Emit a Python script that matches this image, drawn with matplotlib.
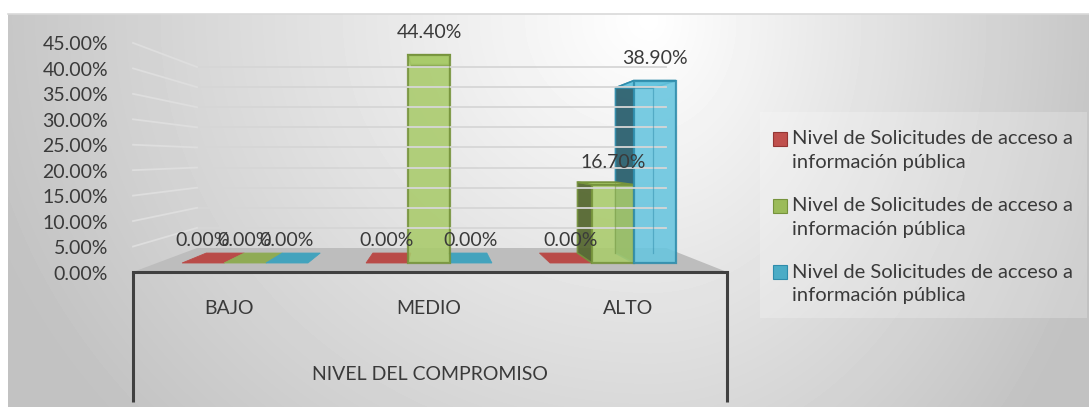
import numpy as np
import matplotlib.pyplot as plt
from matplotlib.patches import Polygon, Rectangle

# datos
categorias = ['BAJO', 'MEDIO', 'ALTO']
serie_nombre = ['Nivel de Solicitudes de acceso a', 'información pública']
rojo = [0.0, 0.0, 0.0]
verde = [0.0, 44.4, 16.7]
azul = [0.0, 0.0, 38.9]
yticks = [0, 5, 10, 15, 20, 25, 30, 35, 40, 45]
titulo_x = 'NIVEL DEL COMPROMISO'

series = [rojo, verde, azul]
cara = ['#c0504d', '#a9cb6b', '#67c5df']
borde = ['#943634', '#76933c', '#2f8cab']
lado = ['#632523', '#4f6228', '#215968']
plano = ['#b94b48', '#8fab55', '#43a3bd']
clave = ['#c0504d', '#9bbb59', '#4bacc6']

plt.rcParams['font.family'] = ['Lato', 'DejaVu Sans']
TXT = '#3a3a3a'

W, H = 1089, 409
fig = plt.figure(figsize=(W / 100, H / 100), dpi=100)

# fondo degradado (coordenadas en pixeles)
bg = fig.add_axes([0, 0, 1, 1])
bg.set_xlim(0, W)
bg.set_ylim(H, 0)
bg.axis('off')
yy, xx = np.mgrid[0:H, 0:W]
rx = np.where(xx < 650, 700.0, 480.0)
rr = np.sqrt(((xx - 650) / rx) ** 2 + ((yy - 20) / 620.0) ** 2)
img = 1 - 0.24 * np.clip(rr, 0, 1)
bg.imshow(img[14:407, 8:], cmap='gray', vmin=0, vmax=1, extent=(8, W, 407, 14),
          aspect='auto', interpolation='bilinear')
bg.plot([8, W], [14, 14], color='#d9d9d9', lw=1.2)

# leyenda
bg.add_patch(Rectangle((760, 112), 327, 206, facecolor='white', alpha=0.22, lw=0))
for i in range(3):
    y1 = 139 + 66.5 * i
    bg.add_patch(Rectangle((773, y1 - 7), 14, 14, facecolor=clave[i], edgecolor=borde[i], lw=0.8))
    bg.text(792, y1, serie_nombre[0], fontsize=14.5, color=TXT, va='center', ha='left')
    bg.text(792, y1 + 23.5, serie_nombre[1], fontsize=14.5, color=TXT, va='center', ha='left')

# ejes principales: x = categoria, y = porcentaje (plano frontal de las barras)
ax = fig.add_axes([0, 0, 1, 1])
ax.patch.set_alpha(0)
ax.axis('off')
PX, PY0, PXV = 184.0, 263.0, 4.69


def to_x(p):
    return (p - 245) / PX


def to_v(p):
    return (PY0 - p) / PXV


ax.set_xlim(to_x(0), to_x(W))
ax.set_ylim(to_v(H), to_v(0))

XVP, D0, D1, K = to_x(438), 0.375, 0.79, 0.21


def esc(d):
    return (1 - K * d) / (1 - K * D0)


def proj(x, v, d):
    r = esc(d)
    return XVP + (x - XVP) * r, (24 * d - 9) / PXV + v * r


# bordes del piso, tomados en el borde frontal (d = 0)
XL = XVP + (to_x(133) - XVP) / esc(0)
XR = XVP + (to_x(727) - XVP) / esc(0)

# piso
piso = [proj(XL, 0, 0), proj(XR, 0, 0), proj(XR, 0, 1), proj(XL, 0, 1)]
ax.add_patch(Polygon(piso, closed=True, facecolor='#bdbdbd', lw=0))

# lineas de division (pared del fondo y pared lateral)
for v in yticks:
    a, b = proj(XL, v, 1), proj(XR, v, 1)
    c = proj(XL, v, 0)
    if v > 0:
        ax.plot([a[0], b[0]], [a[1], b[1]], color='#d6d6d6', lw=1.3)
        ax.plot([c[0], a[0]], [c[1], a[1]], color='#dedede', lw=1.3)
    ax.text(to_x(108), c[1] - 2 / PXV, f'{v:.2f}%', fontsize=14, color=TXT,
            ha='right', va='center')

# marco del eje de categorias
f0, f1 = proj(XL, 0, 0), proj(XR, 0, 0)
ax.plot([f0[0], f1[0]], [f0[1], f1[1]], color='#404040', lw=2.2, solid_capstyle='projecting')
for f in (f0, f1):
    ax.plot([f[0], f[0]], [f[1], to_v(402)], color='#404040', lw=2.2, solid_capstyle='butt')

for j, cat in enumerate(categorias):
    ax.text(proj(j, 0, 0)[0], to_v(309), cat, fontsize=14, color=TXT, ha='center', va='center')
ax.text((f0[0] + f1[0]) / 2, to_v(375), titulo_x, fontsize=14, color=TXT, ha='center', va='center')

# barras
BW = 0.228
planos, lados, tapas = [], [], []
for j in range(3):
    for i, s in enumerate(series):
        v = s[j]
        x0 = j + (i - 1) * BW - BW / 2
        x1 = x0 + BW
        if v == 0:
            planos.append(([proj(x0, 0, D0), proj(x1, 0, D0), proj(x1, 0, D1), proj(x0, 0, D1)], i))
            continue
        if x0 > XVP:
            lados.append(([proj(x0, 0, D0), proj(x0, v, D0), proj(x0, v, D1), proj(x0, 0, D1)], i))
        if x1 < XVP:
            lados.append(([proj(x1, 0, D0), proj(x1, v, D0), proj(x1, v, D1), proj(x1, 0, D1)], i))
        tapas.append(([proj(x0, v, D0), proj(x1, v, D0), proj(x1, v, D1), proj(x0, v, D1)], i))
        # aristas traseras visibles por transparencia
        b0, b1, b2 = proj(x1, 0, D1), proj(x1, v, D1), proj(x0, v, D1)
        ax.plot([b0[0], b1[0], b2[0]], [b0[1], b1[1], b2[1]], color=borde[i], lw=0.9, alpha=0.5)

for pts, i in planos:
    ax.add_patch(Polygon(pts, closed=True, facecolor=plano[i], edgecolor=plano[i], lw=0.6))
for pts, i in lados:
    ax.add_patch(Polygon(pts, closed=True, facecolor=lado[i], edgecolor=borde[i], lw=1.2, alpha=0.9))
for pts, i in tapas:
    ax.add_patch(Polygon(pts, closed=True, facecolor=cara[i], edgecolor=borde[i], lw=1.2))

for i, s in enumerate(series):
    xs = np.arange(3) + (i - 1) * BW
    vals = np.array(s)
    m = vals > 0
    ax.bar(xs[m], vals[m], BW, color=cara[i], alpha=0.88, edgecolor=borde[i], lw=1.6)
    for x, v in zip(xs, vals):
        ax.text(x, v + 22 / PXV, f'{v:.2f}%', fontsize=14, color=TXT, ha='center', va='center')

fig.savefig('out.png', dpi=100)
